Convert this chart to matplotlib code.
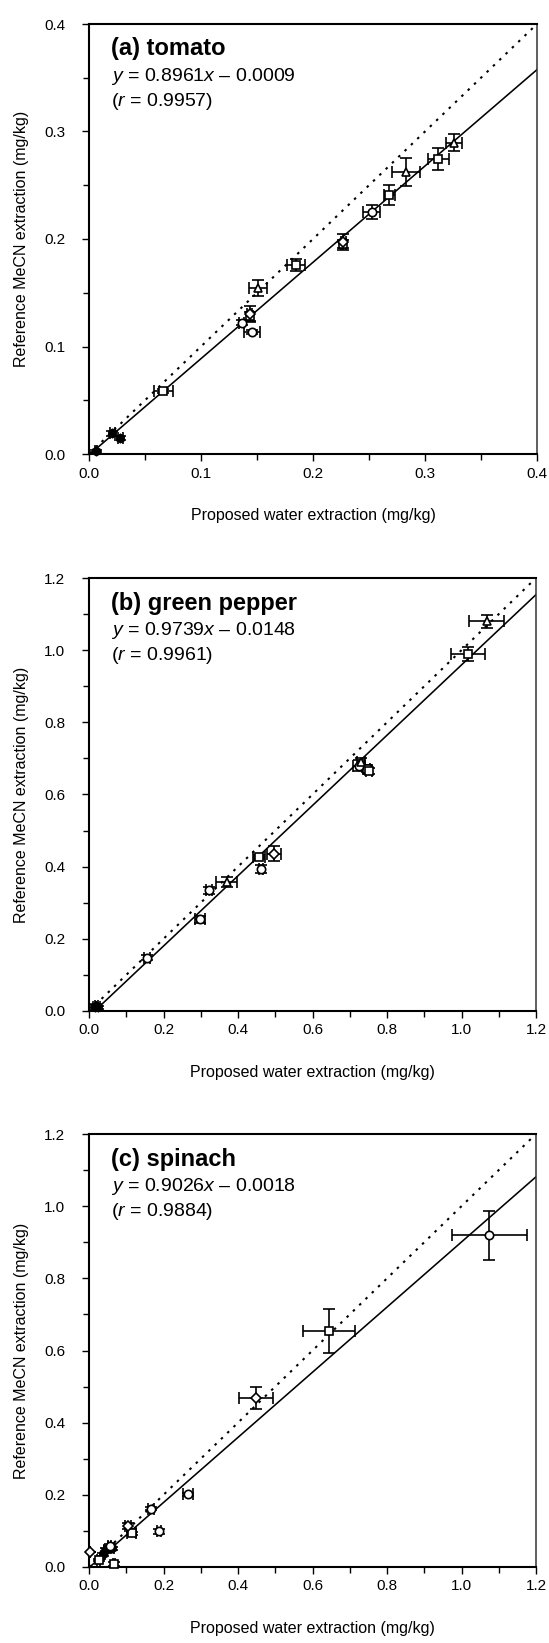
import matplotlib
matplotlib.use("Agg")
import matplotlib.pyplot as plt
from matplotlib.ticker import MultipleLocator
import numpy as np

plt.rcParams['font.family'] = ['Liberation Sans', 'DejaVu Sans']
plt.rcParams['mathtext.fontset'] = 'custom'
plt.rcParams['mathtext.rm'] = 'Liberation Sans'
plt.rcParams['mathtext.it'] = 'Liberation Sans:italic'

# --- data ---
panel_titles = ['(a) tomato', '(b) green pepper', '(c) spinach']
slopes = [0.8961, 0.9739, 0.9026]
intercepts = [-0.0009, -0.0148, -0.0018]
r_values = [0.9957, 0.9961, 0.9884]
axis_max = [0.4, 1.2, 1.2]

# group: A circle, B square, C triangle, D diamond, E filled
tomato_x = [0.0063, 0.0208, 0.028, 0.0664, 0.1363, 0.1440, 0.1435, 0.1453, 0.1509,
            0.1848, 0.2271, 0.2271, 0.2524, 0.2682, 0.2830, 0.3119, 0.3259]
tomato_y = [0.0028, 0.0192, 0.0152, 0.0589, 0.1222, 0.1280, 0.1300, 0.1132, 0.1547,
            0.1758, 0.1955, 0.1969, 0.2254, 0.2409, 0.2626, 0.2744, 0.2896]
tomato_xerr = [0.001, 0.002, 0.002, 0.0082, 0.002, 0.002, 0.002, 0.0071, 0.0077,
               0.0077, 0.002, 0.002, 0.0077, 0.0052, 0.0125, 0.0094, 0.0069]
tomato_yerr = [0.001, 0.002, 0.002, 0.002, 0.002, 0.004, 0.0075, 0.002, 0.0073,
               0.0053, 0.004, 0.0073, 0.0065, 0.0096, 0.013, 0.0098, 0.0078]
tomato_group = ['E', 'E', 'E', 'B', 'A', 'B', 'D', 'A', 'C',
                'B', 'B', 'D', 'A', 'B', 'C', 'B', 'C']

pepper_x = [0.015, 0.020, 0.024, 0.1566, 0.298, 0.3222, 0.3696, 0.4564, 0.461,
            0.4976, 0.725, 0.730, 0.745, 0.752, 1.0183, 1.0676]
pepper_y = [0.012, 0.015, 0.010, 0.148, 0.254, 0.3343, 0.3573, 0.4266, 0.393,
            0.4358, 0.680, 0.690, 0.672, 0.666, 0.9897, 1.080]
pepper_xerr = [0.005, 0.005, 0.005, 0.008, 0.013, 0.008, 0.029, 0.015, 0.005,
               0.019, 0.015, 0.010, 0.010, 0.008, 0.046, 0.047]
pepper_yerr = [0.005, 0.005, 0.005, 0.008, 0.010, 0.010, 0.0148, 0.006, 0.011,
               0.021, 0.015, 0.010, 0.010, 0.008, 0.020, 0.0185]
pepper_group = ['E', 'E', 'E', 'A', 'A', 'A', 'C', 'B', 'A',
                'D', 'A', 'C', 'B', 'B', 'B', 'C']

spinach_x = [0.0027, 0.0268, 0.038, 0.045, 0.055, 0.062, 0.056, 0.068, 0.1056,
             0.1145, 0.1664, 0.188, 0.2667, 0.4483, 0.6452, 1.0747]
spinach_y = [0.0404, 0.0202, 0.035, 0.048, 0.055, 0.052, 0.059, 0.009, 0.1144,
             0.094, 0.1614, 0.0986, 0.202, 0.468, 0.6544, 0.9194]
spinach_xerr = [0.0, 0.004, 0.004, 0.004, 0.004, 0.004, 0.004, 0.003, 0.008,
                0.012, 0.008, 0.006, 0.0134, 0.0447, 0.070, 0.1007]
spinach_yerr = [0.0, 0.003, 0.004, 0.004, 0.004, 0.004, 0.004, 0.006, 0.008,
                0.004, 0.004, 0.006, 0.004, 0.030, 0.0614, 0.0673]
spinach_group = ['D', 'B', 'E', 'E', 'E', 'E', 'A', 'B', 'D',
                 'B', 'A', 'A', 'A', 'D', 'B', 'A']

panels = [
    (tomato_x, tomato_y, tomato_xerr, tomato_yerr, tomato_group),
    (pepper_x, pepper_y, pepper_xerr, pepper_yerr, pepper_group),
    (spinach_x, spinach_y, spinach_xerr, spinach_yerr, spinach_group),
]

marker_style = {
    'A': dict(marker='o', mfc='white'),
    'B': dict(marker='s', mfc='white'),
    'C': dict(marker='^', mfc='white'),
    'D': dict(marker='D', mfc='white', ms=5),
    'E': dict(marker='h', mfc='black'),
}

W, H = 549, 1643
fig = plt.figure(figsize=(W / 100, H / 100), dpi=100)

# axes boxes in pixels: left, top, right, bottom
boxes = [(89, 24, 537, 454), (89, 578, 536, 1011), (89, 1134, 536, 1567)]

for i, (px, py, pxe, pye, grp) in enumerate(panels):
    l, t, r, b = boxes[i]
    ax = fig.add_axes([l / W, 1 - b / H, (r - l) / W, (b - t) / H])
    vmax = axis_max[i]

    # 1:1 line and regression line
    ax.plot([0, vmax], [0, vmax], color='black', lw=1.5,
            linestyle=(0, (1.2, 3.0)), zorder=2)
    x0 = -intercepts[i] / slopes[i]
    xs = np.array([max(x0, 0), vmax])
    ax.plot(xs, slopes[i] * xs + intercepts[i], color='black', lw=1.15, zorder=2)

    for g in ['E', 'B', 'A', 'C', 'D']:
        idx = [k for k, gg in enumerate(grp) if gg == g]
        if not idx:
            continue
        st = dict(ms=6, mec='black', mew=1.2)
        st.update(marker_style[g])
        ax.errorbar([px[k] for k in idx], [py[k] for k in idx],
                    xerr=[pxe[k] for k in idx], yerr=[pye[k] for k in idx],
                    fmt='none', ecolor='black', elinewidth=1.2,
                    capsize=4, capthick=1.2, zorder=3)
        ax.plot([px[k] for k in idx], [py[k] for k in idx], linestyle='none',
                zorder=4, clip_on=False, **st)

    ax.set_xlim(0, vmax)
    ax.set_ylim(0, vmax)
    major = 0.1 if vmax < 1 else 0.2
    ax.xaxis.set_major_locator(MultipleLocator(major))
    ax.yaxis.set_major_locator(MultipleLocator(major))
    ax.xaxis.set_minor_locator(MultipleLocator(major / 2))
    ax.yaxis.set_minor_locator(MultipleLocator(major / 2))
    ax.xaxis.set_major_formatter(plt.FormatStrFormatter('%.1f'))
    ax.yaxis.set_major_formatter(plt.FormatStrFormatter('%.1f'))

    ax.tick_params(which='both', direction='out', top=False, right=False, width=1.0)
    ax.tick_params(which='major', length=5, labelsize=11)
    ax.tick_params(which='minor', length=4)
    ax.tick_params(axis='y', which='major', pad=12)
    ax.tick_params(axis='x', which='major', pad=4)

    for side in ['left', 'bottom', 'top']:
        ax.spines[side].set_linewidth(1.5)
    ax.spines['right'].set_linewidth(1.1)
    ax.spines['right'].set_color('#333333')

    ax.set_xlabel('Proposed water extraction (mg/kg)', fontsize=11.5)
    ax.set_ylabel('Reference MeCN extraction (mg/kg)', fontsize=11.5)
    ax.xaxis.set_label_coords(0.5, -0.125)
    ax.yaxis.set_label_coords(-0.135, 0.5)

    ax.text(0.049, 0.942, panel_titles[i], transform=ax.transAxes,
            fontsize=17, fontweight='bold', va='center', ha='left')
    sign = '–' if intercepts[i] < 0 else '+'
    ax.text(0.049, 0.879,
            r'$y$' + f' = {slopes[i]:.4f}' + r'$x$' + f' {sign} {abs(intercepts[i]):.4f}',
            transform=ax.transAxes, fontsize=14, va='center', ha='left')
    ax.text(0.049, 0.820, '(' + r'$r$' + f' = {r_values[i]:.4f})',
            transform=ax.transAxes, fontsize=14, va='center', ha='left')

fig.savefig('out.png', dpi=100)
